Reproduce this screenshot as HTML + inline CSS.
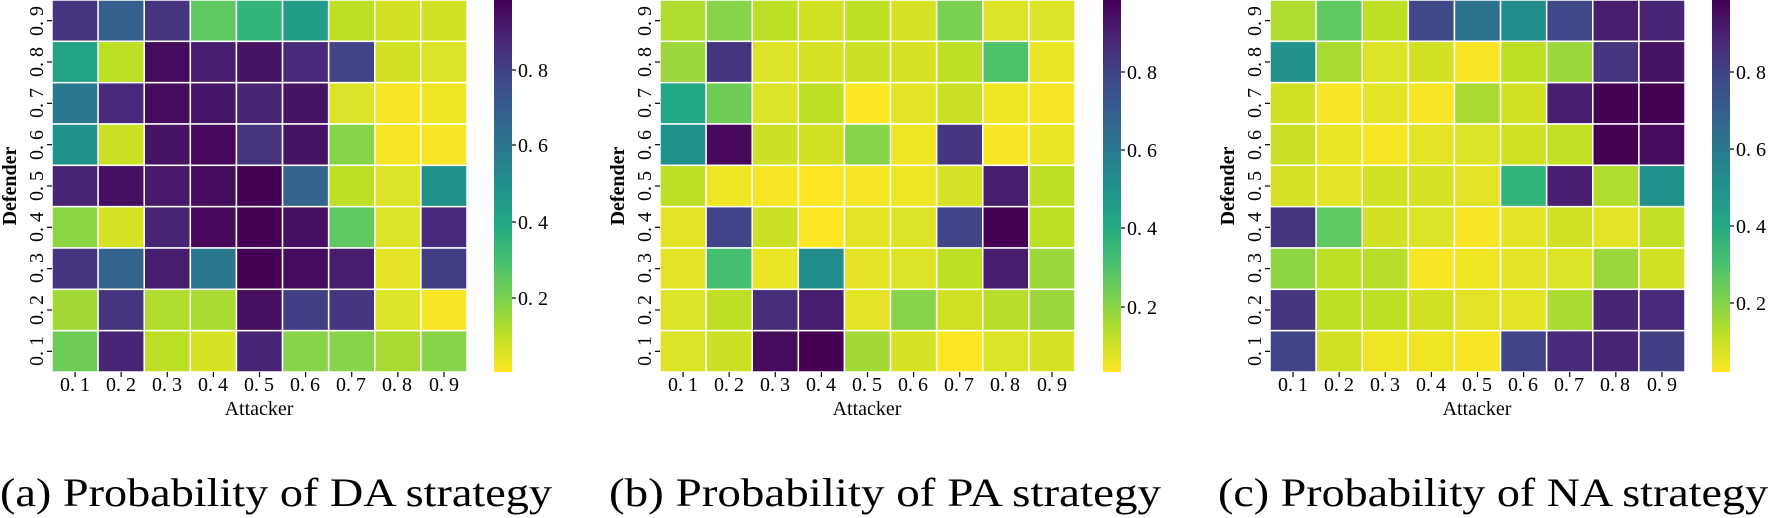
<!DOCTYPE html>
<html><head><meta charset="utf-8"><style>
html,body{margin:0;padding:0;background:#fff;width:1769px;height:518px;overflow:hidden}
svg{display:block}
text{font-family:"Liberation Serif",serif;fill:#000}
.t{font-size:20px}
.cap{font-size:40px}
</style></head><body>
<svg id="s" width="1769" height="518" xmlns="http://www.w3.org/2000/svg" font-family="Liberation Serif, serif">
<defs><linearGradient id="vg" x1="0" y1="1" x2="0" y2="0">
<stop offset="0" stop-color="#fde725"/><stop offset="0.1" stop-color="#bddf26"/><stop offset="0.2" stop-color="#7ad151"/><stop offset="0.3" stop-color="#44bf70"/><stop offset="0.4" stop-color="#22a884"/><stop offset="0.5" stop-color="#21918c"/><stop offset="0.6" stop-color="#2a788e"/><stop offset="0.7" stop-color="#355f8d"/><stop offset="0.8" stop-color="#414487"/><stop offset="0.9" stop-color="#482475"/><stop offset="1" stop-color="#440154"/>
</linearGradient></defs>
<g id="cells"></g>
<!-- Panel a -->
<g transform="translate(52,0)">
<text class="t" x="207" y="415" text-anchor="middle" font-size="21">Attacker</text>
<text class="t" font-weight="bold" font-size="22" transform="translate(-36,186) rotate(-90)" text-anchor="middle">Defender</text>
<g class="t" text-anchor="middle">
<text x="23" y="391">0. 1</text><text x="69" y="391">0. 2</text><text x="115" y="391">0. 3</text><text x="161" y="391">0. 4</text><text x="207" y="391">0. 5</text><text x="253" y="391">0. 6</text><text x="299" y="391">0. 7</text><text x="345" y="391">0. 8</text><text x="392" y="391">0. 9</text>
</g>
<g class="t" text-anchor="middle">
<text transform="translate(-9,351) rotate(-90)">0. 1</text><text transform="translate(-9,310) rotate(-90)">0. 2</text><text transform="translate(-9,268) rotate(-90)">0. 3</text><text transform="translate(-9,227) rotate(-90)">0. 4</text><text transform="translate(-9,186) rotate(-90)">0. 5</text><text transform="translate(-9,145) rotate(-90)">0. 6</text><text transform="translate(-9,103) rotate(-90)">0. 7</text><text transform="translate(-9,62) rotate(-90)">0. 8</text><text transform="translate(-9,21) rotate(-90)">0. 9</text>
</g>
<rect x="442" y="0" width="18" height="372" fill="url(#vg)"/>
<g class="t"><text x="466" y="77">0. 8</text><text x="466" y="152">0. 6</text><text x="466" y="229">0. 4</text><text x="466" y="305">0. 2</text></g>
</g>
<!-- Panel b -->
<g transform="translate(660,0)">
<text class="t" x="207" y="415" text-anchor="middle" font-size="21">Attacker</text>
<text class="t" font-weight="bold" font-size="22" transform="translate(-36,186) rotate(-90)" text-anchor="middle">Defender</text>
<g class="t" text-anchor="middle">
<text x="23" y="391">0. 1</text><text x="69" y="391">0. 2</text><text x="115" y="391">0. 3</text><text x="161" y="391">0. 4</text><text x="207" y="391">0. 5</text><text x="253" y="391">0. 6</text><text x="299" y="391">0. 7</text><text x="345" y="391">0. 8</text><text x="392" y="391">0. 9</text>
</g>
<g class="t" text-anchor="middle">
<text transform="translate(-9,351) rotate(-90)">0. 1</text><text transform="translate(-9,310) rotate(-90)">0. 2</text><text transform="translate(-9,268) rotate(-90)">0. 3</text><text transform="translate(-9,227) rotate(-90)">0. 4</text><text transform="translate(-9,186) rotate(-90)">0. 5</text><text transform="translate(-9,145) rotate(-90)">0. 6</text><text transform="translate(-9,103) rotate(-90)">0. 7</text><text transform="translate(-9,62) rotate(-90)">0. 8</text><text transform="translate(-9,21) rotate(-90)">0. 9</text>
</g>
<rect x="443" y="0" width="18" height="372" fill="url(#vg)"/>
<g class="t"><text x="467" y="79">0. 8</text><text x="467" y="157">0. 6</text><text x="467" y="235">0. 4</text><text x="467" y="314">0. 2</text></g>
</g>
<!-- Panel c -->
<g transform="translate(1270,0)">
<text class="t" x="207" y="415" text-anchor="middle" font-size="21">Attacker</text>
<text class="t" font-weight="bold" font-size="22" transform="translate(-36,186) rotate(-90)" text-anchor="middle">Defender</text>
<g class="t" text-anchor="middle">
<text x="23" y="391">0. 1</text><text x="69" y="391">0. 2</text><text x="115" y="391">0. 3</text><text x="161" y="391">0. 4</text><text x="207" y="391">0. 5</text><text x="253" y="391">0. 6</text><text x="299" y="391">0. 7</text><text x="345" y="391">0. 8</text><text x="392" y="391">0. 9</text>
</g>
<g class="t" text-anchor="middle">
<text transform="translate(-9,351) rotate(-90)">0. 1</text><text transform="translate(-9,310) rotate(-90)">0. 2</text><text transform="translate(-9,268) rotate(-90)">0. 3</text><text transform="translate(-9,227) rotate(-90)">0. 4</text><text transform="translate(-9,186) rotate(-90)">0. 5</text><text transform="translate(-9,145) rotate(-90)">0. 6</text><text transform="translate(-9,103) rotate(-90)">0. 7</text><text transform="translate(-9,62) rotate(-90)">0. 8</text><text transform="translate(-9,21) rotate(-90)">0. 9</text>
</g>
<rect x="442" y="0" width="18" height="372" fill="url(#vg)"/>
<g class="t"><text x="466" y="79">0. 8</text><text x="466" y="156">0. 6</text><text x="466" y="233">0. 4</text><text x="466" y="310">0. 2</text></g>
</g>
<text class="cap" x="0" y="506" textLength="552" lengthAdjust="spacingAndGlyphs">(a) Probability of DA strategy</text>
<text class="cap" x="609" y="506" textLength="552" lengthAdjust="spacingAndGlyphs">(b) Probability of PA strategy</text>
<text class="cap" x="1218" y="506" textLength="550" lengthAdjust="spacingAndGlyphs">(c) Probability of NA strategy</text>
</svg>
<script>
var V=["#440154","#482475","#414487","#355f8d","#2a788e","#21918c","#22a884","#44bf70","#7ad151","#bddf26","#fde725"];
function h(c){return [parseInt(c.substr(1,2),16),parseInt(c.substr(3,2),16),parseInt(c.substr(5,2),16)]}
function col(t){t=Math.max(0,Math.min(1,t));var i=Math.min(9,Math.floor(t*10)),f=t*10-i,a=h(V[i]),b=h(V[i+1]);
return "rgb("+[0,1,2].map(function(k){return Math.round(a[k]+(b[k]-a[k])*f)}).join(",")+")";}
var P=[[52,[
[0.15,0.3,0.15,0.75,0.65,0.55,0.9,0.93,0.93],
[0.58,0.9,0.03,0.08,0.05,0.12,0.2,0.93,0.95],
[0.4,0.12,0.03,0.06,0.1,0.05,0.95,0.99,0.98],
[0.5,0.92,0.05,0.02,0.15,0.05,0.82,0.99,0.99],
[0.1,0.04,0.07,0.03,0.0,0.32,0.9,0.95,0.5],
[0.83,0.94,0.1,0.02,0.0,0.04,0.75,0.95,0.12],
[0.15,0.32,0.08,0.4,0.0,0.03,0.08,0.96,0.18],
[0.86,0.15,0.88,0.87,0.04,0.18,0.15,0.95,0.99],
[0.78,0.1,0.9,0.94,0.1,0.82,0.82,0.87,0.82]]],
[660,[
[0.88,0.82,0.9,0.93,0.9,0.94,0.8,0.95,0.95],
[0.85,0.15,0.95,0.94,0.92,0.94,0.9,0.72,0.97],
[0.6,0.78,0.95,0.9,1.0,0.96,0.92,0.98,0.99],
[0.5,0.02,0.92,0.93,0.82,0.98,0.15,0.99,0.97],
[0.9,0.98,0.99,1.0,0.99,0.98,0.94,0.08,0.9],
[0.96,0.2,0.92,1.0,0.96,0.95,0.2,0.0,0.9],
[0.96,0.7,0.97,0.48,0.96,0.95,0.9,0.08,0.85],
[0.95,0.9,0.13,0.08,0.96,0.82,0.93,0.89,0.85],
[0.95,0.92,0.03,0.0,0.86,0.94,1.0,0.95,0.94]]],
[1270,[
[0.88,0.75,0.9,0.22,0.38,0.48,0.22,0.08,0.1],
[0.5,0.87,0.95,0.93,0.99,0.9,0.85,0.15,0.05],
[0.93,0.99,0.96,0.99,0.87,0.93,0.08,0.0,0.0],
[0.92,0.97,0.99,0.96,0.95,0.93,0.91,0.0,0.03],
[0.94,0.96,0.93,0.94,0.96,0.65,0.08,0.88,0.5],
[0.15,0.75,0.93,0.95,0.99,0.96,0.93,0.96,0.91],
[0.83,0.9,0.89,0.99,0.98,0.96,0.95,0.85,0.93],
[0.15,0.9,0.9,0.93,0.96,0.96,0.87,0.1,0.12],
[0.2,0.93,0.98,0.98,0.99,0.2,0.12,0.1,0.18]]]];
var s="",cw=415/9,ch=372/9;
P.forEach(function(p){var x0=p[0];
 for(var r=0;r<9;r++)for(var c=0;c<9;c++){
  s+='<rect x="'+(x0+c*cw)+'" y="'+(r*ch)+'" width="'+cw+'" height="'+ch+'" fill="'+col(p[1][r][c])+'" stroke="#fff" stroke-width="1.5"/>';}
 for(var i=0;i<9;i++){var cx=x0+(i+0.5)*cw,cy=(i+0.5)*ch;
  s+='<line x1="'+cx+'" y1="372" x2="'+cx+'" y2="377" stroke="#000" stroke-width="1.2"/>';
  s+='<line x1="'+(x0-5)+'" y1="'+cy+'" x2="'+x0+'" y2="'+cy+'" stroke="#000" stroke-width="1.2"/>';}
});
[[494,[70,145,222,298]],[1103,[72,150,228,307]],[1712,[72,149,226,303]]].forEach(function(q){
 q[1].forEach(function(y){s+='<line x1="'+(q[0]+18)+'" y1="'+y+'" x2="'+(q[0]+22)+'" y2="'+y+'" stroke="#000" stroke-width="1.2"/>';});});
document.getElementById("cells").innerHTML=s;
</script>
</body></html>
